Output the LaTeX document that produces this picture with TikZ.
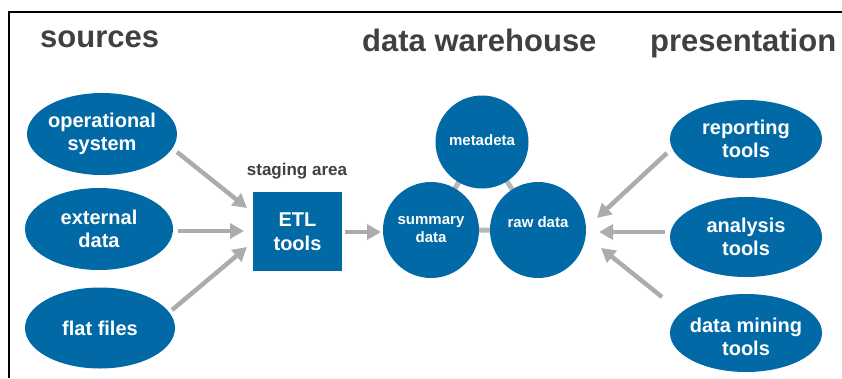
\documentclass[tikz,border=0pt]{standalone}
\usepackage{fontspec}
\setmainfont{Liberation Sans}
\usetikzlibrary{shapes.geometric,arrows.meta,backgrounds}
\definecolor{dwblue}{RGB}{0,105,166}
\definecolor{arrgray}{RGB}{172,172,172}
\definecolor{trigray}{RGB}{185,185,185}
\definecolor{titlegray}{RGB}{64,64,64}
\begin{document}
\begin{tikzpicture}[x=1pt,y=-1pt,
  title/.style={anchor=base west, inner sep=0pt, text=titlegray, font=\fontsize{31}{36}\selectfont\bfseries},
  blob/.style={ellipse, fill=dwblue, inner sep=0pt},
  blobtext/.style={text=white, align=center, inner sep=0pt, font=\fontsize{20}{23}\selectfont\bfseries},
  disc/.style={circle, fill=dwblue, inner sep=0pt, minimum size=96pt},
  disctext/.style={text=white, align=center, inner sep=0pt, font=\fontsize{15}{18}\selectfont\bfseries},
  etlbox/.style={rectangle, fill=dwblue, text=white, align=center, inner sep=0pt,
    minimum width=89pt, minimum height=79pt, font=\fontsize{20}{24}\selectfont\bfseries},
  arr/.style={draw=arrgray, line width=4.5pt, -{Triangle[length=14pt,width=15pt]}},
  tri/.style={draw=trigray, line width=5pt}
]
\useasboundingbox (0,0) rectangle (842,378);
\draw[line width=1.4pt] (9,378) -- (9,12) -- (842,12);

% titles
\node[title] (tsrc) at (40,47) {sources};
\node[title] (tdw) at (362,51) {data warehouse};
\node[title] (tpres) at (650,51) {presentation};

% sources
\node[blob, minimum width=150pt, minimum height=82pt, label={[blobtext]center:{operational\\system}}] (op) at (102,134) {};
\node[blob, minimum width=148pt, minimum height=82pt, label={[blobtext]center:{external\\data}}] (ext) at (99,229) {};
\node[blob, minimum width=150pt, minimum height=81pt, label={[blobtext]center:{flat files}}] (flat) at (100,328) {};

% staging
\node[anchor=base, inner sep=0pt, text=titlegray, font=\fontsize{17}{20}\selectfont\bfseries] (stg) at (297,175) {staging area};
\node[etlbox] (etl) at (297.5,231.5) {ETL\\tools};

% warehouse
\node[disc, minimum size=93pt, label={[disctext, yshift=2pt]center:{metadeta}}] (meta) at (482,142) {};
\node[disc, label={[disctext]center:{summary\\data}}] (summ) at (431,230) {};
\node[disc, label={[disctext, yshift=8pt]center:{raw data}}] (raw) at (538,230) {};
\begin{pgfonlayer}{background}
\draw[tri] (meta.center) -- (summ.center) -- (raw.center) -- cycle;
\end{pgfonlayer}

% presentation
\node[blob, minimum width=152pt, minimum height=78pt, label={[blobtext]center:{reporting\\tools}}] (rep) at (746,139) {};
\node[blob, minimum width=152pt, minimum height=80pt, label={[blobtext]center:{analysis\\tools}}] (ana) at (746,237) {};
\node[blob, minimum width=152pt, minimum height=78pt, label={[blobtext, yshift=-4pt]center:{data mining\\tools}}] (mine) at (746,333) {};

% arrow end points
\coordinate (s1) at (177,152); \coordinate (e1) at (247,208);
\coordinate (s2) at (178,231); \coordinate (e2) at (244,231);
\coordinate (s3) at (172,310); \coordinate (e3) at (247,247);
\coordinate (s4) at (345,232); \coordinate (e4) at (381,232);
\coordinate (s5) at (667,153); \coordinate (e5) at (597,218);
\coordinate (s6) at (665,232); \coordinate (e6) at (599,232);
\coordinate (s7) at (662,297); \coordinate (e7) at (601,248);

\draw[arr] (s1) -- (e1);
\draw[arr] (s2) -- (e2);
\draw[arr] (s3) -- (e3);
\draw[arr] (s4) -- (e4);
\draw[arr] (s5) -- (e5);
\draw[arr] (s6) -- (e6);
\draw[arr] (s7) -- (e7);
\end{tikzpicture}
\end{document}
